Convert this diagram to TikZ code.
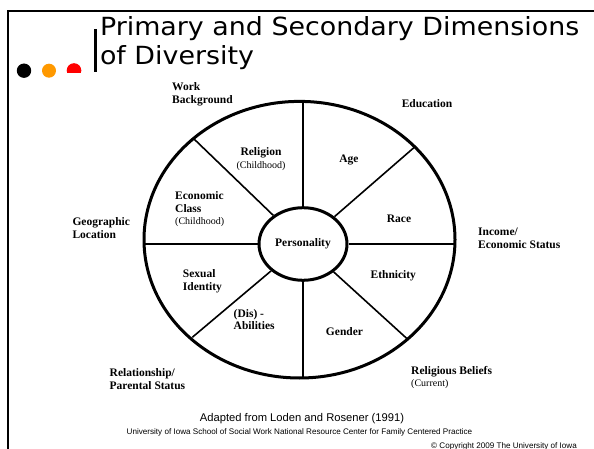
\documentclass[tikz,border=0pt]{standalone}
\usepackage{fontspec}
\setmainfont{Liberation Serif}
\setsansfont{Liberation Sans}
\newfontfamily\titlefont{DejaVu Sans}
\usetikzlibrary{shapes.geometric}
\definecolor{dotorange}{HTML}{FF9900}
\definecolor{dotred}{HTML}{FF0000}
\begin{document}
\begin{tikzpicture}[x=1pt,y=-1pt,
  lab/.style={font=\bfseries\fontsize{11.5}{12.5}\selectfont, inner sep=0pt, align=left},
  labc/.style={lab, align=center},
  spoke/.style={line width=1.6pt},
  heading/.style={font=\titlefont\fontsize{25}{29}\selectfont, inner sep=0pt, anchor=base west},
  foot/.style={font=\sffamily, inner sep=0pt}
  ]
\useasboundingbox (0,0) rectangle (594,449);

% slide frame
\draw[line width=2.8pt] (8,449) -- (8,11) -- (594,11);

% bullet dots and title bar
\fill[black] (24,70.7) circle (7.2);
\fill[dotorange] (49,70.7) circle (7);
\begin{scope}
  \clip (60,55) rectangle (90,72.5);
  \fill[dotred] (74,70.5) circle (7.3);
\end{scope}
\draw[line width=2.5pt] (95.7,29.3) -- (95.7,72.3);

\node[heading] (title1) at (99.8,35.7) {\scalebox{1.075}[1]{Primary and Secondary Dimensions}};
\node[heading] (title2) at (99.8,65) {\scalebox{1.075}[1]{of Diversity}};

% wheel
\node[draw, ellipse, line width=3pt, minimum width=311pt, minimum height=276.6pt,
      inner sep=0pt] (rim) at (299.5,239.7) {};
\node[draw, ellipse, line width=3pt, fill=white, minimum width=88pt, minimum height=72.6pt,
      inner sep=0pt, font=\bfseries\fontsize{11.5}{12.5}\selectfont] (core) at (303,244) {Personality};

\coordinate (pN) at (303,101.5);
\coordinate (pS) at (303,378);
\coordinate (pW) at (144.2,244);
\coordinate (pE) at (454.8,244);
\coordinate (pNW) at (193.3,138.3);
\coordinate (pNE) at (415,146.7);
\coordinate (pSW) at (192.3,337.3);
\coordinate (pSE) at (407.7,339.3);

\foreach \p in {pN,pS,pW,pE,pNW,pNE,pSW,pSE}
  \draw[spoke] (core) -- (\p);

% inner dimensions
\node[labc] (relig) at (261,159) {Religion\\{\mdseries\fontsize{10}{11}\selectfont (Childhood)}};
\node[labc] (age) at (349,160) {Age};
\node[lab, anchor=west] (econ) at (175,209.5) {Economic\\Class\\{\mdseries\fontsize{10}{11}\selectfont (Childhood)}};
\node[labc] (race) at (399,219) {Race};
\node[labc] (ethn) at (393.3,275.7) {Ethnicity};
\node[lab, anchor=west] (sex) at (182.7,281.5) {Sexual\\Identity};
\node[lab, anchor=west] (dis) at (233.5,319.5) {(Dis) -\\Abilities};
\node[labc] (gender) at (344.5,331.7) {Gender};

% outer dimensions
\node[lab, anchor=west] (work) at (172,94.5) {Work\\Background};
\node[labc] (educ) at (427,104) {Education};
\node[lab, anchor=west] (geo) at (72.3,228.3) {Geographic\\Location};
\node[lab, anchor=west] (income) at (478,238.5) {Income/\\Economic Status};
\node[lab, anchor=west] (relat) at (109.5,379) {Relationship/\\Parental Status};
\node[lab, anchor=west] (relbel) at (411,377.5) {Religious Beliefs\\{\mdseries\fontsize{10}{11}\selectfont (Current)}};

% credits
\node[foot, font=\sffamily\fontsize{11.2}{13}\selectfont] (adapted) at (302,418.5) {Adapted from Loden and Rosener (1991)};
\node[foot, font=\sffamily\fontsize{8.1}{9}\selectfont] (univ) at (299.5,432.5) {University of Iowa School of Social Work National Resource Center for Family Centered Practice};
\node[foot, font=\sffamily\fontsize{8.1}{9}\selectfont] (copy) at (504,446.5) {\textcopyright{} Copyright 2009 The University of Iowa};
\end{tikzpicture}
\end{document}
